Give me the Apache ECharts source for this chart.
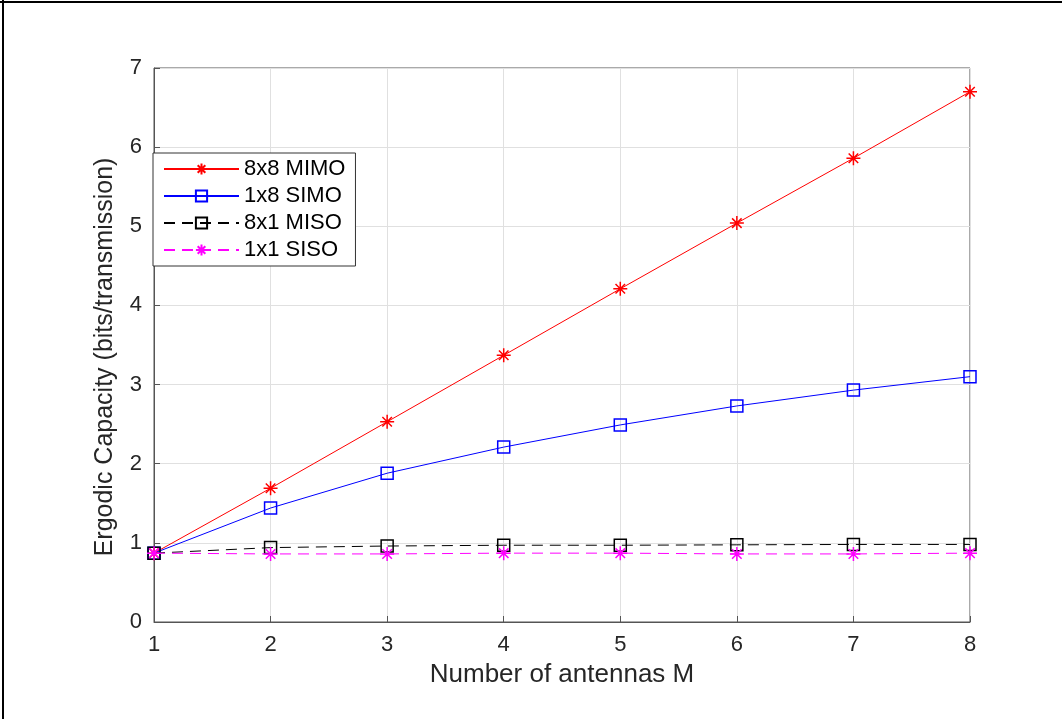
<!DOCTYPE html>
<html>
<head>
<meta charset="utf-8">
<script src="https://cdn.jsdelivr.net/npm/echarts@6/dist/echarts.min.js"></script>
<style>
  html, body { margin: 0; padding: 0; background: #fff; }
  #chart { width: 1062px; height: 719px; }
</style>
</head>
<body>
<div id="chart"></div>
<script>
var antennas = [1, 2, 3, 4, 5, 6, 7, 8];
var mimo = [0.87, 1.69, 2.53, 3.37, 4.21, 5.04, 5.86, 6.70];
var simo = [0.87, 1.44, 1.88, 2.21, 2.49, 2.73, 2.93, 3.10];
var miso = [0.87, 0.94, 0.96, 0.97, 0.97, 0.975, 0.98, 0.98];
var siso = [0.87, 0.86, 0.86, 0.87, 0.87, 0.86, 0.86, 0.87];

var star = 'path://M5,0L5,10M0,5L10,5M1.6,1.6L8.4,8.4M1.6,8.4L8.4,1.6';

function pairs(ys) {
    return antennas.map(function (x, i) { return [x, ys[i]]; });
}

function makeSeries(name, ys, color, symbol, size, dash) {
    return {
        name: name,
        type: 'line',
        data: pairs(ys),
        symbol: symbol,
        symbolSize: size,
        showAllSymbol: true,
        lineStyle: { color: color, width: 1, type: dash },
        itemStyle: {
            color: symbol === 'rect' ? 'rgba(255,255,255,0)' : color,
            borderColor: color,
            borderWidth: 1.5
        },
        emphasis: { disabled: true },
        animation: false
    };
}

var chart = echarts.init(document.getElementById('chart'));
chart.setOption({
    backgroundColor: '#fff',
    textStyle: { fontFamily: 'Liberation Sans, Arial, sans-serif' },
    grid: {
        left: 154, right: 92, top: 68, bottom: 97,
        show: true, borderColor: '#555', borderWidth: 1
    },
    graphic: [
        { type: 'line', shape: { x1: 3, y1: 0, x2: 3, y2: 719 }, style: { stroke: '#000', lineWidth: 2 } },
        { type: 'line', shape: { x1: 0, y1: 2, x2: 1062, y2: 2 }, style: { stroke: '#000', lineWidth: 2 } }
    ],
    legend: {
        orient: 'vertical',
        left: 153,
        top: 153,
        padding: [4, 10, 4, 10],
        itemGap: 3,
        itemWidth: 75,
        itemHeight: 14,
        borderColor: '#333',
        borderWidth: 1,
        backgroundColor: '#fff',
        textStyle: { fontSize: 22, color: '#000', lineHeight: 24 },
        data: ['8x8 MIMO', '1x8 SIMO', '8x1 MISO', '1x1 SISO']
    },
    xAxis: {
        type: 'value',
        min: 1,
        max: 8,
        interval: 1,
        name: 'Number of antennas M',
        nameLocation: 'middle',
        nameGap: 40,
        nameTextStyle: { fontSize: 26, color: '#262626' },
        axisLine: { show: true, lineStyle: { color: '#555', width: 1 } },
        axisTick: { show: true, inside: true, length: 6, lineStyle: { color: '#555' } },
        axisLabel: { fontSize: 22, color: '#262626', margin: 12 },
        splitLine: { show: true, lineStyle: { color: '#e0e0e0', width: 1 } }
    },
    yAxis: {
        type: 'value',
        min: 0,
        max: 7,
        interval: 1,
        name: 'Ergodic Capacity (bits/transmission)',
        nameLocation: 'middle',
        nameGap: 36,
        nameTextStyle: { fontSize: 25, color: '#262626', padding: [0, 24, 0, 0] },
        axisLine: { show: true, lineStyle: { color: '#555', width: 1 } },
        axisTick: { show: true, inside: true, length: 6, lineStyle: { color: '#555' } },
        axisLabel: { fontSize: 22, color: '#262626', margin: 12 },
        splitLine: { show: true, lineStyle: { color: '#e0e0e0', width: 1 } }
    },
    series: [
        makeSeries('8x8 MIMO', mimo, '#ff0000', star, 14, 'solid'),
        makeSeries('1x8 SIMO', simo, '#0000ff', 'rect', 12, 'solid'),
        makeSeries('8x1 MISO', miso, '#000000', 'rect', 12, [11, 7]),
        makeSeries('1x1 SISO', siso, '#ff00ff', star, 14, [11, 7])
    ]
});
</script>
</body>
</html>
